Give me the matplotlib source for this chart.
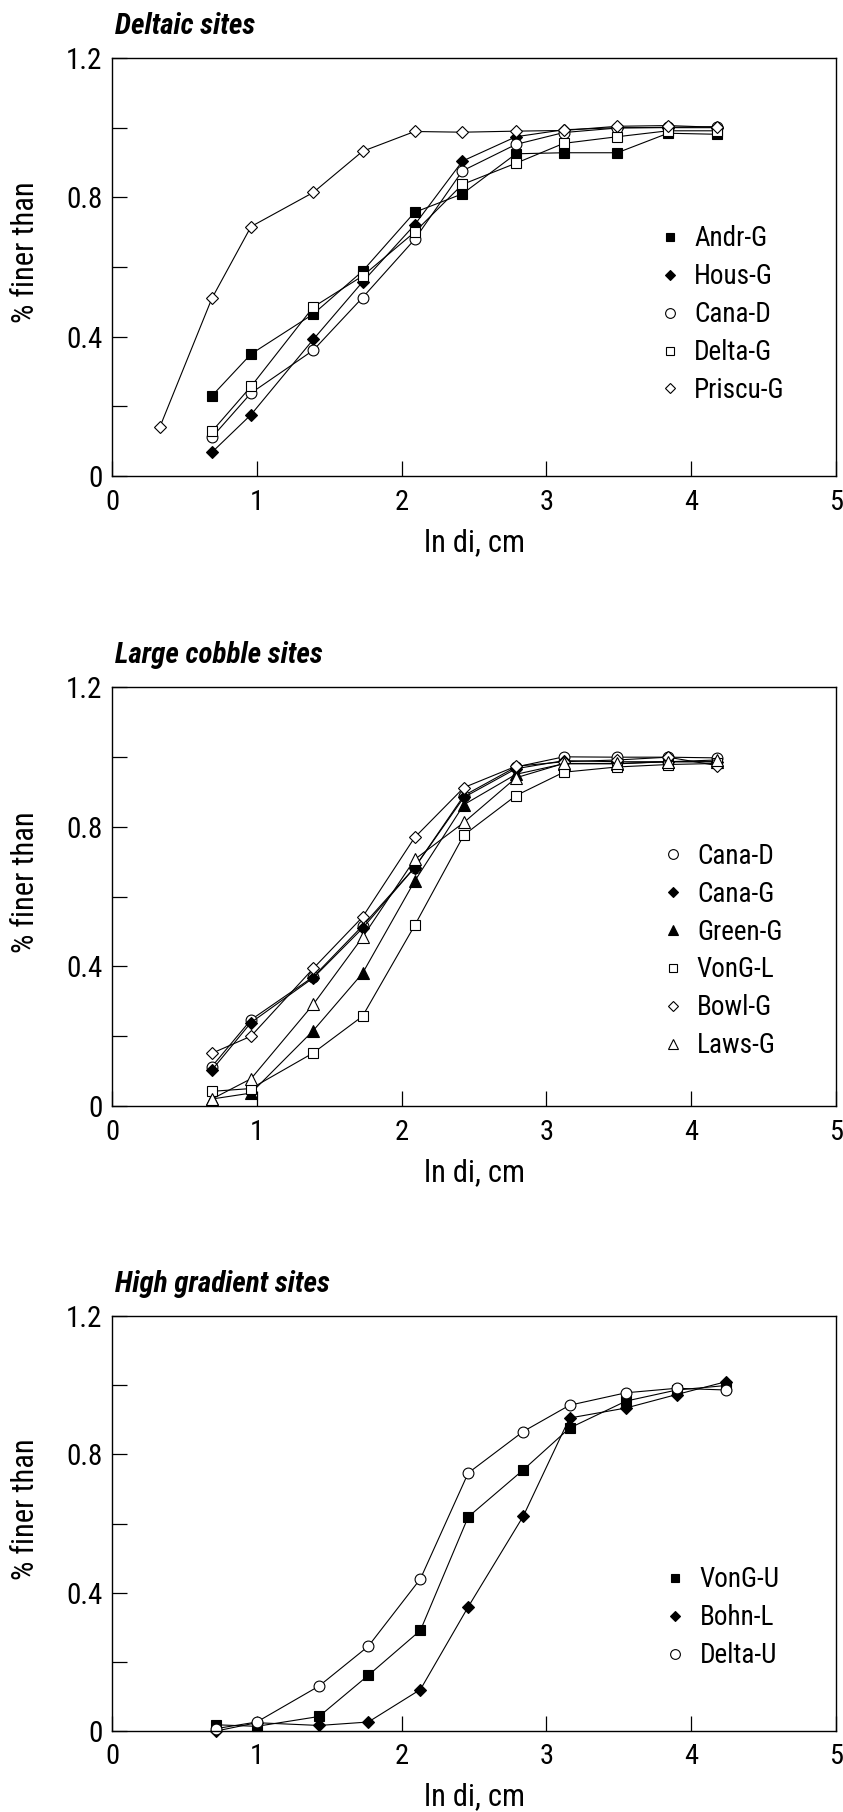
import matplotlib
matplotlib.use("Agg")
import matplotlib.pyplot as plt
from matplotlib import font_manager as fm
from matplotlib.lines import Line2D
import matplotlib.transforms as mtransforms

# ---------------- fonts (condensed sans, picked from what is installed) ----------------
_fonts = fm.fontManager.ttflist


def _w(f):
    try:
        return int(f.weight)
    except (TypeError, ValueError):
        return {'bold': 700, 'black': 900, 'heavy': 800}.get(str(f.weight), 400)


def pick_regular(cands):
    for c in cands:
        if any(f.name == c and f.style == 'normal' for f in _fonts):
            return c
    return 'Liberation Sans'


def pick_bold_italic(cands):
    for c in cands:
        ws = sorted({_w(f) for f in _fonts if f.name == c and f.style in ('italic', 'oblique')})
        ws = [w for w in ws if w >= 700]
        if ws:
            return c, max(ws)
    return 'Liberation Sans', 700


REG = pick_regular(['Liberation Sans Narrow', 'Arial Narrow', 'Roboto Condensed', 'Archivo Narrow',
                    'PT Sans Narrow', 'IBM Plex Sans Condensed', 'Fira Sans Condensed',
                    'Sofia Sans Semi Condensed', 'Open Sans Condensed'])
TIT, TIT_W = pick_bold_italic(['Liberation Sans Narrow', 'Roboto Condensed', 'Fira Sans Condensed',
                               'Barlow Condensed', 'IBM Plex Sans Condensed', 'Archivo Narrow'])
plt.rcParams['font.family'] = [REG, 'DejaVu Sans']

# ---------------- data ----------------
titles = ["Deltaic sites", "Large cobble sites", "High gradient sites"]

# Panel 1 : Deltaic sites
x_delta = [0.69, 0.96, 1.39, 1.73, 2.09, 2.42, 2.79, 3.12, 3.49, 3.84, 4.18]
x_priscu = [0.33, 0.69, 0.96, 1.39, 1.73, 2.09, 2.42, 2.79, 3.12, 3.49, 3.84, 4.18]
andr_g = [0.23, 0.35, 0.465, 0.588, 0.757, 0.81, 0.925, 0.928, 0.928, 0.984, 0.981]
hous_g = [0.068, 0.176, 0.392, 0.557, 0.721, 0.904, 0.974, 0.994, 1.0, 1.0, 1.0]
cana_d1 = [0.111, 0.238, 0.361, 0.512, 0.679, 0.876, 0.952, 0.986, 0.999, 1.001, 1.003]
delta_g = [0.128, 0.257, 0.485, 0.574, 0.70, 0.837, 0.898, 0.955, 0.974, 0.991, 0.991]
priscu_g = [0.14, 0.51, 0.716, 0.814, 0.932, 0.989, 0.987, 0.99, 0.992, 1.004, 1.006, 1.001]

# Panel 2 : Large cobble sites
x_cobble = [0.69, 0.96, 1.39, 1.73, 2.09, 2.43, 2.79, 3.12, 3.49, 3.84, 4.18]
cana_d2 = [0.113, 0.247, 0.37, 0.516, 0.683, 0.889, 0.971, 1.0, 0.999, 0.999, 0.997]
cana_g = [0.103, 0.239, 0.367, 0.509, 0.683, 0.884, 0.966, 0.989, 0.986, 0.986, 0.986]
green_g = [0.02, 0.037, 0.216, 0.38, 0.644, 0.863, 0.95, 0.98, 0.98, 0.986, 0.986]
vong_l = [0.042, 0.05, 0.152, 0.257, 0.517, 0.776, 0.889, 0.956, 0.971, 0.978, 0.981]
bowl_g = [0.151, 0.2, 0.394, 0.541, 0.769, 0.912, 0.973, 0.986, 0.991, 0.999, 0.975]
laws_g = [0.02, 0.078, 0.291, 0.483, 0.706, 0.812, 0.94, 0.981, 0.981, 0.986, 0.991]

# Panel 3 : High gradient sites
x_grad = [0.72, 1.0, 1.43, 1.77, 2.13, 2.46, 2.84, 3.16, 3.55, 3.90, 4.24]
vong_u = [0.018, 0.0135, 0.042, 0.161, 0.291, 0.619, 0.755, 0.876, 0.954, 0.986, 0.999]
bohn_l = [0.0, 0.024, 0.016, 0.026, 0.12, 0.359, 0.621, 0.905, 0.934, 0.973, 1.01]
delta_u = [0.007, 0.026, 0.13, 0.245, 0.44, 0.746, 0.866, 0.942, 0.978, 0.991, 0.986]

# (label, x, y, marker, filled)
panels = [
    [("Andr-G", x_delta, andr_g, 's', True),
     ("Hous-G", x_delta, hous_g, 'D', True),
     ("Cana-D", x_delta, cana_d1, 'o', False),
     ("Delta-G", x_delta, delta_g, 's', False),
     ("Priscu-G", x_priscu, priscu_g, 'D', False)],
    [("Cana-D", x_cobble, cana_d2, 'o', False),
     ("Cana-G", x_cobble, cana_g, 'D', True),
     ("Green-G", x_cobble, green_g, '^', True),
     ("VonG-L", x_cobble, vong_l, 's', False),
     ("Bowl-G", x_cobble, bowl_g, 'D', False),
     ("Laws-G", x_cobble, laws_g, '^', False)],
    [("VonG-U", x_grad, vong_u, 's', True),
     ("Bohn-L", x_grad, bohn_l, 'D', True),
     ("Delta-U", x_grad, delta_u, 'o', False)],
]

xticks = [0, 1, 2, 3, 4, 5]
yticks_major = [0, 0.4, 0.8, 1.2]
yticks_all = [0, 0.2, 0.4, 0.6, 0.8, 1.0, 1.2]

# ---------------- layout ----------------
W, H = 843, 1812
fig = plt.figure(figsize=(W / 100, H / 100), dpi=100)
left_px, right_px = 112, 836
axes_px = [(58, 476), (687, 1106), (1316, 1731)]
legend_anchor = [(0.759, 0.386), (0.763, 0.370), (0.767, 0.273)]

msize = {'s': 7.0, 'D': 6.2, 'o': 7.8, '^': 8.2}

for i, (top, bot) in enumerate(axes_px):
    ax = fig.add_axes([left_px / W, 1 - bot / H, (right_px - left_px) / W, (bot - top) / H])
    handles = []
    for label, xs, ys, mk, filled in panels[i]:
        fc = 'black' if filled else 'white'
        ax.plot(xs, ys, color='black', lw=0.8, marker=mk, markersize=msize[mk],
                markerfacecolor=fc, markeredgecolor='black', markeredgewidth=0.8,
                clip_on=False)
        handles.append(Line2D([], [], ls='none', marker=mk, markersize=msize[mk] * 0.9,
                              markerfacecolor=fc, markeredgecolor='black',
                              markeredgewidth=0.8, label=label))
    ax.set_xlim(0, 5)
    ax.set_ylim(0, 1.2)
    ax.set_xticks(xticks)
    ax.set_xticklabels([str(v) for v in xticks])
    ax.set_yticks(yticks_all)
    ax.set_yticklabels(['0' if v == 0 else ('%.1f' % v if v in yticks_major else '') for v in yticks_all])
    ax.tick_params(axis='x', direction='in', length=11, width=0.9, pad=9, labelsize=20.5)
    ax.tick_params(axis='y', direction='in', length=11, width=0.9, pad=7, labelsize=21)
    for sp in ax.spines.values():
        sp.set_linewidth(1.0)
    ax.set_xlabel("ln di, cm", fontsize=22, va='top')
    ax.xaxis.set_label_coords(0.5, -0.124)
    ax.set_ylabel("% finer than", fontsize=22)
    ax.yaxis.set_label_coords(-0.10, 0.535)
    off = mtransforms.offset_copy(ax.transAxes, fig=fig, x=2, y=24 * 0.72, units='points')
    ax.text(0, 1, titles[i], transform=off, fontsize=21, fontweight=TIT_W,
            fontstyle='italic', ha='left', va='baseline', family=[TIT, 'DejaVu Sans'])
    ax.legend(handles=handles, loc='center left', bbox_to_anchor=legend_anchor[i],
              frameon=False, fontsize=19.5, handlelength=0.6, handletextpad=0.6,
              labelspacing=0.4, borderpad=0, borderaxespad=0)

fig.savefig("out.png", dpi=100)
